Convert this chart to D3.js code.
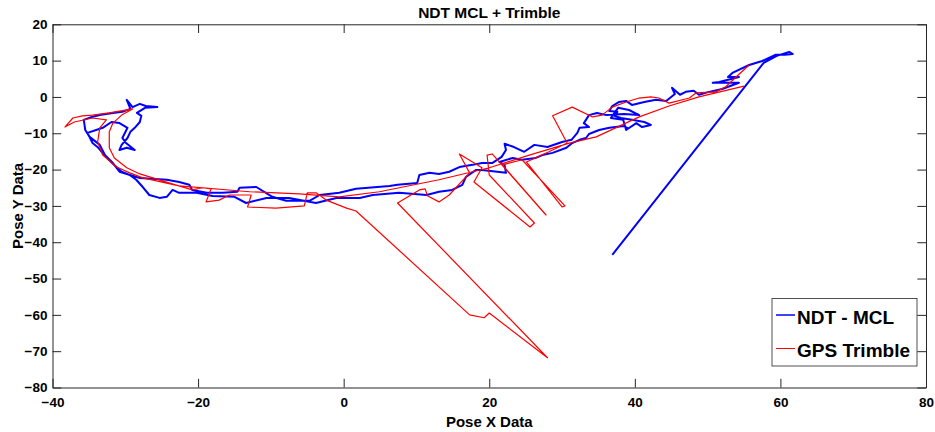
<!DOCTYPE html>
<html>
<head>
<meta charset="utf-8">
<script src="https://cdn.jsdelivr.net/npm/d3@7"></script>
<style>
  body { margin: 0; background: #fff; }
  text { font-family: "Liberation Sans", Arial, Helvetica, sans-serif; font-weight: bold; fill: #000; }
</style>
</head>
<body>
<svg id="chart" width="935" height="432"></svg>
<script>
// tick values
var xTicks = [-40, -20, 0, 20, 40, 60, 80];
var yTicks = [20, 10, 0, -10, -20, -30, -40, -50, -60, -70, -80];

var seriesNames = ['NDT - MCL', 'GPS Trimble'];

// NDT - MCL pose (blue)
var ndtX = [36.9,57.7,59.5,61.2,61.7,60.6,59.3,57.5,55.7,53.4,52.8,54.3,51.6,50.7,54.3,52.0,50.2,48.8,48.1,47.0,
  46.2,45.1,45.5,44.3,42.9,41.3,39.6,38.8,37.8,36.9,36.5,37.6,37.2,38.1,39.6,41.3,42.2,41.0,40.2,38.8,
  38.4,36.7,37.7,39.2,40.6,38.5,36.1,34.8,33.7,33.0,33.7,32.4,32.1,31.3,30.0,28.0,26.2,24.8,23.4,22.1,
  22.3,21.7,20.4,19.0,17.7,15.9,14.5,13.1,11.8,10.4,10.1,7.4,6.3,1.7,-0.6,-3.3,-4.7,-7.9,-9.8,-12.0,
  -14.3,-14.6,-16.6,-18.8,-20.8,-21.2,-22.6,-24.3,-28.0,-30.8,-31.7,-32.8,-33.5,-34.9,-35.5,-35.7,-34.6,-33.5,-31.7,-30.4,
  -29.3,-29.8,-29.0,-28.0,-27.2,-25.6,-27.3,-28.4,-27.8,-28.0,-28.7,-29.3,-29.7,-30.5,-30.8,-29.8,-28.7,-29.9,-30.4,-29.7,
  -30.8,-31.9,-33.1,-34.0,-35.2,-34.5,-33.7,-32.8,-31.7,-30.5,-29.4,-28.5,-27.6,-26.7,-25.3,-24.3,-23.5,-22.6,-20.2,-18.0,
  -15.0,-13.4,-10.6,-7.5,-3.8,-1.0,2.2,4.0,7.6,11.4,13.1,14.9,16.3,16.8,18.2,19.0,21.1,22.3,22.1,21.4,
  23.2,24.5,26.4,27.3,28.7,30.6,31.4,32.4,33.3,33.7,35.1,36.5,38.5,39.2];
var ndtY = [-43.5,9.4,11.3,12.4,11.8,11.6,11.6,9.9,8.8,6.6,5.5,5.5,4.1,3.9,3.9,2.2,1.4,0.6,1.7,1.4,
  0.6,2.5,0.8,-1.1,-0.8,-1.4,-2.2,-1.1,-1.4,-2.5,-3.9,-4.1,-5.2,-5.8,-6.3,-6.9,-7.7,-8.3,-7.2,-9.1,
  -6.3,-5.8,-3.0,-3.6,-5.0,-4.7,-5.0,-4.4,-5.0,-7.2,-8.3,-8.5,-9.9,-11.8,-12.4,-13.8,-13.2,-15.1,-13.8,-12.9,
  -14.6,-16.5,-18.2,-18.2,-18.7,-19.3,-20.6,-21.2,-20.9,-21.5,-23.7,-24.2,-24.5,-25.3,-26.4,-27.0,-28.6,-28.6,-27.5,-24.8,
  -25.0,-26.1,-26.4,-26.4,-25.6,-24.2,-23.4,-22.8,-22.3,-20.6,-18.2,-16.0,-13.2,-11.0,-9.1,-6.3,-5.5,-5.0,-4.4,-4.1,
  -3.3,-0.8,-2.8,-1.9,-2.5,-2.8,-3.0,-4.4,-5.2,-6.9,-8.5,-9.6,-11.3,-13.2,-14.6,-14.0,-14.6,-12.7,-11.3,-8.5,
  -7.2,-6.9,-8.5,-9.1,-9.9,-12.7,-14.0,-16.2,-18.4,-20.6,-21.5,-22.8,-24.8,-27.0,-27.8,-27.5,-25.6,-26.4,-26.4,-27.3,
  -27.5,-29.2,-27.8,-27.8,-29.2,-27.8,-27.8,-27.0,-26.4,-27.0,-26.1,-25.6,-24.2,-22.0,-20.1,-20.1,-20.6,-20.9,-18.7,-17.9,
  -16.8,-17.3,-16.8,-16.0,-15.4,-14.0,-12.7,-11.8,-11.3,-10.2,-9.1,-8.5,-8.0,-8.8];

// GPS Trimble pose (red)
var gpsX = [55.0,48.8,44.7,40.6,34.7,31.0,25.5,20.0,13.1,4.9,-0.6,-6.1,-12.9,-22.6,-27.6,-29.4,-31.2,-33.1,-33.8,-33.5,
  -32.6,-34.5,-37.0,-38.3,-37.2,-35.9,-34.5,-32.2,-29.0,-30.5,-31.7,-32.2,-32.2,-31.5,-29.8,-28.0,-23.1,-20.8,-19.4,-18.2,
  -18.9,-17.1,-15.7,-12.7,-13.2,-9.3,-5.4,-5.0,-3.8,-2.4,0.4,1.7,17.3,19.3,20.0,28.0,7.4,10.4,11.2,11.5,
  13.1,14.5,17.3,15.9,19.0,17.9,25.6,26.2,20.0,19.7,20.4,27.8,21.8,24.5,30.4,30.0,25.1,28.2,30.7,28.7,
  31.4,34.2,35.5,36.9,38.8,40.6,42.2,43.3,44.7,47.5,48.4,51.1,52.5,53.9,55.7];
var gpsY = [3.0,0.0,-2.5,-5.5,-11.0,-12.7,-16.0,-19.5,-22.8,-26.1,-27.5,-26.7,-26.1,-24.5,-22.3,-20.9,-19.3,-16.0,-12.4,-8.5,
  -6.3,-5.8,-6.9,-8.3,-5.8,-5.2,-5.0,-4.4,-3.3,-5.0,-7.2,-9.6,-14.0,-16.8,-19.5,-21.2,-24.2,-25.6,-25.0,-25.3,
  -28.9,-28.4,-27.0,-27.0,-30.3,-30.6,-30.0,-26.4,-26.4,-28.4,-30.6,-31.4,-60.0,-60.8,-59.5,-71.8,-29.2,-25.6,-25.3,-27.2,
  -28.9,-27.0,-20.9,-15.7,-19.5,-23.4,-35.8,-34.7,-21.5,-16.0,-15.7,-32.5,-18.7,-17.3,-30.0,-30.3,-17.9,-15.1,-12.7,-5.2,
  -2.8,-5.5,-5.0,-2.8,-1.4,-0.3,0.0,-0.3,-1.7,-0.3,1.1,1.4,2.8,5.5,8.8];

var axisColor = '#262626';
var svg = d3.select('#chart');

var x = d3.scaleLinear().domain([-40, 80]).range([52.5, 926]);
var y = d3.scaleLinear().domain([-80, 20]).range([387.5, 24.3]);

var tickLen = 8.7;

// white plot area
svg.append('rect')
  .attr('x', x(-40)).attr('y', y(20))
  .attr('width', x(80) - x(-40)).attr('height', y(-80) - y(20))
  .attr('fill', '#fff');

var line = d3.line()
  .x(function(d) { return x(d[0]); })
  .y(function(d) { return y(d[1]); });

var ndt = d3.zip(ndtX, ndtY);
var gps = d3.zip(gpsX, gpsY);

svg.append('path')
  .datum(ndt)
  .attr('d', line)
  .attr('fill', 'none')
  .attr('stroke', '#0000ff')
  .attr('stroke-width', 2)
  .attr('stroke-linejoin', 'round');

svg.append('path')
  .datum(gps)
  .attr('d', line)
  .attr('fill', 'none')
  .attr('stroke', '#ff0000')
  .attr('stroke-width', 1.2)
  .attr('stroke-linejoin', 'round');

// axes, ticks pointing inward on all four sides
function styleAxis(g) {
  g.selectAll('path, line').attr('stroke', axisColor);
  g.selectAll('text')
    .style('font-size', '13.5px')
    .style('font-weight', 'bold')
    .attr('fill', axisColor);
}

svg.append('g')
  .attr('transform', 'translate(0,' + y(-80) + ')')
  .call(d3.axisBottom(x).tickValues(xTicks).tickSize(-tickLen).tickSizeOuter(0).tickPadding(9.5))
  .call(styleAxis);

svg.append('g')
  .attr('transform', 'translate(' + x(-40) + ',0)')
  .call(d3.axisLeft(y).tickValues(yTicks).tickSize(-tickLen).tickSizeOuter(0).tickPadding(5))
  .call(styleAxis);

svg.append('g')
  .attr('transform', 'translate(0,' + y(20) + ')')
  .call(d3.axisTop(x).tickValues(xTicks).tickSize(-tickLen).tickSizeOuter(0).tickFormat(''))
  .call(styleAxis);

svg.append('g')
  .attr('transform', 'translate(' + x(80) + ',0)')
  .call(d3.axisRight(y).tickValues(yTicks).tickSize(-tickLen).tickSizeOuter(0).tickFormat(''))
  .call(styleAxis);

// titles
svg.append('text')
  .attr('x', (x(-40) + x(80)) / 2)
  .attr('y', 18.3)
  .attr('text-anchor', 'middle')
  .style('font-size', '15.5px')
  .text('NDT MCL + Trimble');

svg.append('text')
  .attr('x', (x(-40) + x(80)) / 2)
  .attr('y', 426.5)
  .attr('text-anchor', 'middle')
  .style('font-size', '15px')
  .attr('fill', axisColor)
  .text('Pose X Data');

svg.append('text')
  .attr('transform', 'translate(23,' + ((y(20) + y(-80)) / 2) + ') rotate(-90)')
  .attr('text-anchor', 'middle')
  .style('font-size', '15px')
  .attr('fill', axisColor)
  .text('Pose Y Data');

// legend
var legend = svg.append('g').attr('transform', 'translate(772,298.5)');
legend.append('rect')
  .attr('width', 145).attr('height', 67.5)
  .attr('fill', '#fff')
  .attr('stroke', axisColor)
  .attr('stroke-width', 0.8);

var legendColors = ['#0000ff', '#ff0000'];
var legendItems = legend.selectAll('g.item')
  .data(seriesNames)
  .enter()
  .append('g')
  .attr('class', 'item')
  .attr('transform', function(d, i) { return 'translate(0,' + (16.5 + i * 33.5) + ')'; });

legendItems.append('line')
  .attr('x1', 4).attr('x2', 23)
  .attr('stroke', function(d, i) { return legendColors[i]; })
  .attr('stroke-width', function(d, i) { return i === 0 ? 1.5 : 1; });

legendItems.append('text')
  .attr('x', 25)
  .attr('y', 8.5)
  .style('font-size', '19px')
  .text(function(d) { return d; });
</script>
</body>
</html>
